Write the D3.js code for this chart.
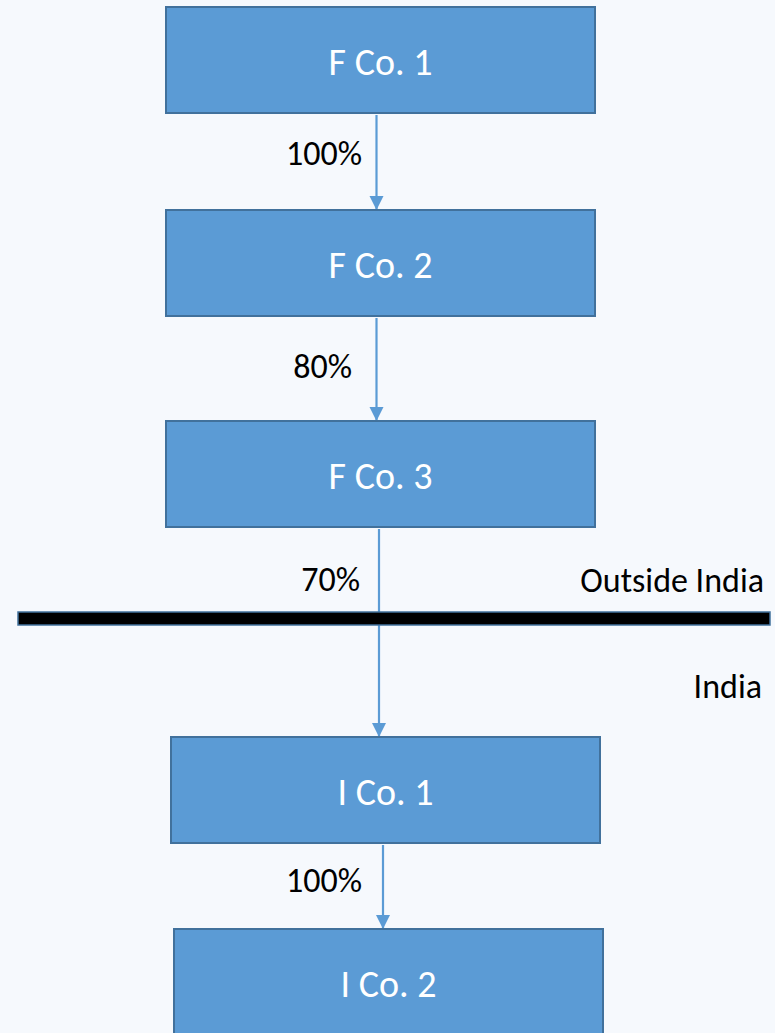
<!DOCTYPE html>
<html>
<head>
<meta charset="utf-8">
<script src="https://cdn.jsdelivr.net/npm/d3@7"></script>
<style>
  html, body { margin: 0; padding: 0; background: #f6f9fd; }
  svg { display: block; font-family: Calibri, Carlito, Lato, sans-serif; }
</style>
</head>
<body>
<div class="chart"></div>
<script>
// chart data
const companies = ['F Co. 1', 'F Co. 2', 'F Co. 3', 'I Co. 1', 'I Co. 2'];
const holdings = ['100%', '80%', '70%', '100%'];
const regions = ['Outside India', 'India'];

// canvas
const width = 775;
const height = 1033;

const svg = d3.select('.chart')
  .append('svg')
  .attr('width', width)
  .attr('height', height);

// layout for each box (left, top) - diagram not evenly spaced
const boxW = 429;
const boxH = 106;
const boxPos = [
  { x: 166, y: 7 },
  { x: 166, y: 210 },
  { x: 166, y: 421 },
  { x: 171, y: 737 },
  { x: 174, y: 929 }
];
// label anchor points (right edge, baseline)
const pctPos = [[362, 165], [352, 378], [360, 591], [362, 892]];
const regionPos = [[764, 592], [762, 698]];

const nodes = companies.map((name, i) => ({ name, ...boxPos[i] }));

// arrow marker
svg.append('defs').append('marker')
  .attr('id', 'arrow')
  .attr('viewBox', '0 0 10 10')
  .attr('refX', 10)
  .attr('refY', 5)
  .attr('markerWidth', 6.5)
  .attr('markerHeight', 6.5)
  .attr('markerUnits', 'strokeWidth')
  .attr('orient', 'auto')
  .append('path')
  .attr('d', 'M0,0 L10,5 L0,10 Z')
  .attr('fill', '#5b9bd5');

// links between boxes
const links = holdings.map((pct, i) => {
  const a = nodes[i], b = nodes[i + 1];
  const x = (a.x + boxW / 2 + b.x + boxW / 2) / 2 - 4;
  return { pct, x, y1: a.y + boxH + 2, y2: b.y };
});

svg.append('g')
  .selectAll('line')
  .data(links)
  .enter()
  .append('line')
  .attr('x1', d => d.x)
  .attr('x2', d => d.x)
  .attr('y1', d => d.y1)
  .attr('y2', d => d.y2)
  .attr('stroke', '#5b9bd5')
  .attr('stroke-width', 2.2)
  .attr('marker-end', 'url(#arrow)');

// border line between regions
svg.append('rect')
  .attr('x', 18)
  .attr('y', 612)
  .attr('width', 752)
  .attr('height', 13)
  .attr('fill', '#000')
  .attr('stroke', '#41719c')
  .attr('stroke-width', 1.5);

// boxes
const box = svg.append('g')
  .selectAll('g')
  .data(nodes)
  .enter()
  .append('g')
  .attr('transform', d => `translate(${d.x}, ${d.y})`);

box.append('rect')
  .attr('width', boxW)
  .attr('height', boxH)
  .attr('fill', '#5b9bd5')
  .attr('stroke', '#41719c')
  .attr('stroke-width', 2);

box.append('text')
  .attr('x', boxW / 2)
  .attr('y', boxH / 2 + 2)
  .attr('dy', '0.35em')
  .attr('text-anchor', 'middle')
  .attr('fill', '#fff')
  .attr('font-size', 38)
  .attr('font-weight', 300)
  .text(d => d.name);

// percentage labels
svg.append('g')
  .selectAll('text')
  .data(links)
  .enter()
  .append('text')
  .attr('x', (d, i) => pctPos[i][0])
  .attr('y', (d, i) => pctPos[i][1])
  .attr('text-anchor', 'end')
  .attr('fill', '#000')
  .attr('font-size', 34)
  .text(d => d.pct);

// region labels
svg.append('g')
  .selectAll('text')
  .data(regions)
  .enter()
  .append('text')
  .attr('x', (d, i) => regionPos[i][0])
  .attr('y', (d, i) => regionPos[i][1])
  .attr('text-anchor', 'end')
  .attr('fill', '#000')
  .attr('font-size', 34)
  .text(d => d);
</script>
</body>
</html>
